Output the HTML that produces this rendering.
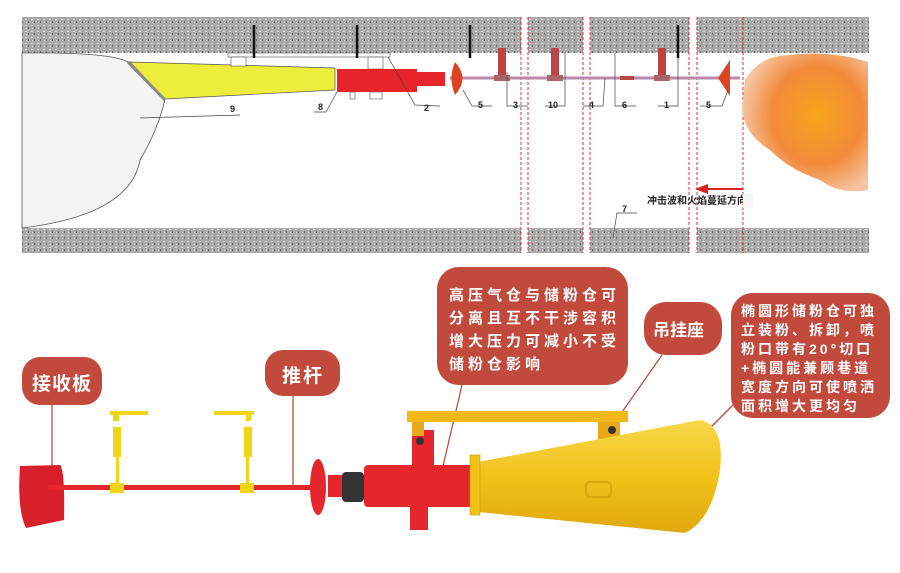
<!DOCTYPE html>
<html><head><meta charset="utf-8"><style>
body{margin:0;background:#fff;}
svg{display:block;}
text{font-family:"Liberation Sans","Noto Sans CJK SC",sans-serif;}
</style></head><body>
<svg width="900" height="573" viewBox="0 0 900 573" xmlns="http://www.w3.org/2000/svg">
<defs>
<pattern id="gr" width="6" height="6" patternUnits="userSpaceOnUse">
<rect width="6" height="6" fill="#a9a9a9"/><rect x="1" y="1" width="2" height="1" fill="#e0e0e0"/><rect x="4" y="3" width="1" height="2" fill="#6a6a6a"/><rect x="2" y="4" width="1" height="1" fill="#eee"/>
</pattern>
<radialGradient id="fl" cx="0.6" cy="0.45" r="0.6"><stop offset="0" stop-color="#f7a51c"/><stop offset="0.6" stop-color="#f28a3a"/><stop offset="1" stop-color="#f6c4a0"/></radialGradient>
<linearGradient id="yc" x1="0" y1="0" x2="0" y2="1"><stop offset="0" stop-color="#f7d84a"/><stop offset="0.5" stop-color="#f1c21a"/><stop offset="1" stop-color="#e0a80c"/></linearGradient>
</defs>
<g fill="url(#gr)">
<rect x="22" y="17" width="499" height="36"/><rect x="528" y="17" width="55" height="36"/><rect x="590" y="17" width="99" height="36"/><rect x="697" y="17" width="172" height="36"/>
<rect x="22" y="228" width="499" height="25"/><rect x="528" y="228" width="55" height="25"/><rect x="590" y="228" width="99" height="25"/><rect x="697" y="228" width="172" height="25"/>
</g>
<path d="M22 53 Q110 52 128 62 L165 99 Q158 130 140 160 Q130 215 22 228 Z" fill="#f3f3f3" stroke="#555" stroke-width="0.8"/>
<g stroke="#d33" stroke-width="1" stroke-dasharray="3,2">
<line x1="521" y1="17" x2="521" y2="253"/><line x1="528" y1="17" x2="528" y2="253"/><line x1="583" y1="17" x2="583" y2="253"/><line x1="590" y1="17" x2="590" y2="253"/><line x1="689" y1="17" x2="689" y2="253"/><line x1="697" y1="17" x2="697" y2="253"/><line x1="743" y1="17" x2="743" y2="253"/>
</g>
<path d="M745 80 Q760 55 790 55 Q830 50 868 62 L868 190 Q840 195 820 180 Q790 170 770 150 Q745 135 742 110 Z" fill="url(#fl)"/>
<polygon points="130,62 335,68 335,90 165,99" fill="#eded3c" stroke="#555" stroke-width="0.7"/>
<line x1="128" y1="62" x2="165" y2="100" stroke="#888" stroke-width="3"/>
<rect x="228" y="53" width="162" height="4" fill="#fff" stroke="#555" stroke-width="0.6"/>
<rect x="231" y="57" width="15" height="9" fill="#fff" stroke="#555" stroke-width="0.6"/>
<rect x="368" y="57" width="15" height="12" fill="#fff" stroke="#555" stroke-width="0.6"/>
<g stroke="#111" stroke-width="2.5"><line x1="254" y1="25" x2="254" y2="58"/><line x1="357" y1="25" x2="357" y2="58"/><line x1="470" y1="25" x2="470" y2="58"/><line x1="678" y1="25" x2="678" y2="58"/></g>
<rect x="337" y="69" width="80" height="23" fill="#e8232a"/>
<rect x="417" y="72" width="28" height="14" fill="#e8232a"/>
<rect x="350" y="92" width="5" height="7" fill="#fff" stroke="#555" stroke-width="0.6"/>
<rect x="370" y="92" width="12" height="7" fill="#fff" stroke="#555" stroke-width="0.6"/>
<line x1="450" y1="78" x2="740" y2="78" stroke="#b8a" stroke-width="3"/>
<path d="M455 62 Q470 78 455 95 Q448 78 455 62Z" fill="#d42"/>
<path d="M730 60 L730 96 L718 78Z" fill="#d42"/>
<g fill="#b44"><rect x="498" y="48" width="8" height="28"/><rect x="551" y="48" width="8" height="28"/><rect x="658" y="48" width="8" height="28"/><rect x="620" y="76" width="14" height="4"/></g>
<g fill="#a66"><rect x="494" y="75" width="16" height="6"/><rect x="547" y="75" width="16" height="6"/><rect x="654" y="75" width="16" height="6"/></g>
<g stroke="#444" stroke-width="0.7" fill="none">
<polyline points="140,118 240,115"/><polyline points="337,92 326,112 314,112"/><polyline points="388,57 415,105 440,106"/>
<polyline points="463,90 472,106 492,106"/><polyline points="507,72 507,106 528,106"/><polyline points="565,52 565,106 545,106"/><polyline points="605,78 603,106 583,106"/><polyline points="615,53 615,106 636,106"/><polyline points="678,58 678,106 658,106"/><polyline points="728,90 722,106 700,106"/>
<polyline points="613,238 617,213 637,213"/>
</g>
<g font-size="9" font-weight="bold" fill="#222">
<text x="230" y="112">9</text><text x="318" y="110">8</text><text x="424" y="111">2</text><text x="478" y="108">5</text><text x="513" y="108">3</text><text x="548" y="108">10</text><text x="589" y="108">4</text><text x="622" y="108">6</text><text x="664" y="108">1</text><text x="706" y="108">5</text><text x="622" y="212">7</text>
</g>
<path d="M743 188 L708 188 L708 184 L695 189 L708 194 L708 190 L743 190Z" fill="#d22"/>
<text x="647" y="204" font-size="10" font-weight="bold" fill="#222">冲击波和火焰蔓延方向</text>
<rect x="743" y="194" width="10" height="14" fill="#f6f6f6"/>

<g stroke="#b8503f" stroke-width="1.3" fill="none">
<line x1="52" y1="405" x2="52" y2="470"/><line x1="293" y1="396" x2="293" y2="487"/><line x1="462" y1="385" x2="443" y2="466"/><line x1="662" y1="355" x2="620" y2="415"/><line x1="742" y1="396" x2="683" y2="455"/>
</g>
<path d="M20 466 L60 465 Q65 470 64 520 L26 528 Q17 510 20 466Z" fill="#d8202a"/>
<rect x="48" y="485" width="265" height="5" fill="#e5262c"/>
<g fill="#f1d516">
<rect x="110" y="411" width="38" height="4"/><rect x="113" y="413" width="6" height="8"/><rect x="113" y="427" width="8" height="30"/><rect x="116" y="457" width="3" height="28"/><rect x="110" y="483" width="14" height="10"/>
<rect x="214" y="411" width="40" height="4"/><rect x="246" y="413" width="5" height="8"/><rect x="244" y="427" width="8" height="30"/><rect x="246" y="457" width="3" height="28"/><rect x="240" y="483" width="14" height="10"/>
</g>
<ellipse cx="318" cy="487" rx="8" ry="28" fill="#e5262c"/>
<rect x="328" y="475" width="14" height="22" fill="#e5262c"/>
<rect x="342" y="472" width="22" height="30" rx="4" fill="#333"/>
<rect x="364" y="465" width="110" height="42" rx="4" fill="#e5262c"/>
<rect x="410" y="500" width="18" height="30" fill="#e5262c"/>
<rect x="412" y="430" width="22" height="38" fill="#e5262c"/>
<circle cx="420" cy="441" r="4" fill="#333"/>
<rect x="407" y="411" width="221" height="11" fill="#f2b81a"/>
<rect x="412" y="422" width="12" height="14" fill="#e8a818"/>
<rect x="598" y="422" width="22" height="20" fill="#e8a818"/>
<circle cx="612" cy="430" r="4" fill="#333"/>
<path d="M478 462 L700 420 Q725 425 720 470 Q712 520 685 533 L478 512Z" fill="url(#yc)"/>
<rect x="470" y="455" width="10" height="60" fill="#f1c21a" stroke="#c9950a" stroke-width="0.6"/>
<rect x="586" y="482" width="25" height="15" rx="4" fill="none" stroke="#d9a50c" stroke-width="2"/>

<g fill="#c24a3c">
<rect x="22" y="357" width="80" height="48" rx="18"/>
<rect x="265" y="350" width="75" height="46" rx="18"/>
<rect x="437" y="267" width="191" height="118" rx="22"/>
<rect x="644" y="302" width="78" height="53" rx="22"/>
<rect x="731" y="293" width="159" height="125" rx="22"/>
</g>
<g fill="#fff" font-weight="bold">
<text x="32" y="390" font-size="19" letter-spacing="1">接收板</text>
<text x="282" y="382" font-size="19" letter-spacing="2">推杆</text>
<text x="653" y="336" font-size="17">吊挂座</text>
<g font-size="15" letter-spacing="4">
<text x="449" y="300">高压气仓与储粉仓可</text>
<text x="449" y="323">分离且互不干涉容积</text>
<text x="449" y="346">增大压力可减小不受</text>
<text x="449" y="369">储粉仓影响</text>
</g>
<g font-size="14" letter-spacing="3">
<text x="741" y="316">椭圆形储粉仓可独</text>
<text x="741" y="335">立装粉、拆卸，喷</text>
<text x="741" y="354">粉口带有20°切口</text>
<text x="741" y="373">+椭圆能兼顾巷道</text>
<text x="741" y="392">宽度方向可使喷洒</text>
<text x="741" y="411">面积增大更均匀</text>
</g>
</g>
</svg>
</body></html>
